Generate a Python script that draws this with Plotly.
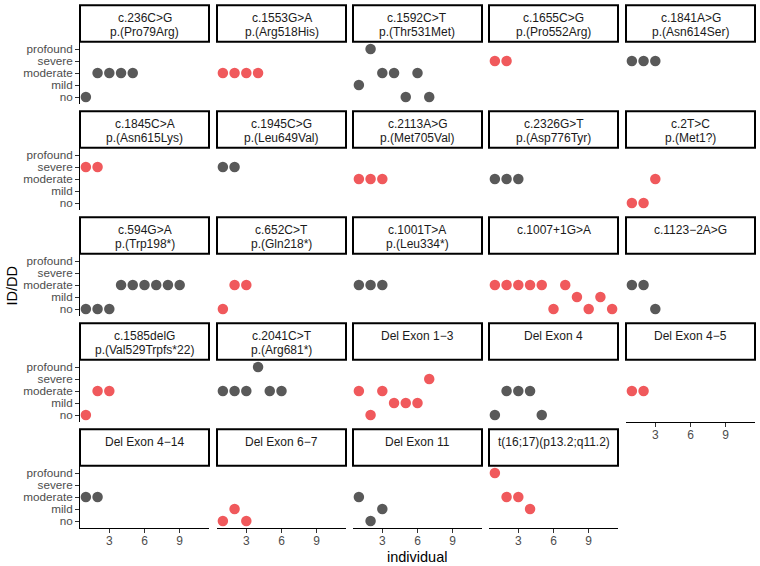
import plotly.graph_objects as go

# ---- data ----
levels = ["no", "mild", "moderate", "severe", "profound"]

variant_line1 = [
    "c.236C>G", "c.1553G>A", "c.1592C>T", "c.1655C>G", "c.1841A>G",
    "c.1845C>A", "c.1945C>G", "c.2113A>G", "c.2326G>T", "c.2T>C",
    "c.594G>A", "c.652C>T", "c.1001T>A", "c.1007+1G>A", "c.1123\u22122A>G",
    "c.1585delG", "c.2041C>T", "Del Exon 1\u22123", "Del Exon 4", "Del Exon 4\u22125",
    "Del Exon 4\u221214", "Del Exon 6\u22127", "Del Exon 11", "t(16;17)(p13.2;q11.2)",
]
variant_line2 = [
    "p.(Pro79Arg)", "p.(Arg518His)", "p.(Thr531Met)", "p.(Pro552Arg)", "p.(Asn614Ser)",
    "p.(Asn615Lys)", "p.(Leu649Val)", "p.(Met705Val)", "p.(Asp776Tyr)", "p.(Met1?)",
    "p.(Trp198*)", "p.(Gln218*)", "p.(Leu334*)", "", "",
    "p.(Val529Trpfs*22)", "p.(Arg681*)", "", "", "",
    "", "", "", "",
]
# severity of individuals 1..n in each panel
severity = [
    ["no", "moderate", "moderate", "moderate", "moderate"],
    ["moderate", "moderate", "moderate", "moderate"],
    ["mild", "profound", "moderate", "moderate", "no", "moderate", "no"],
    ["severe", "severe"],
    ["severe", "severe", "severe"],
    ["severe", "severe"],
    ["severe", "severe"],
    ["moderate", "moderate", "moderate"],
    ["moderate", "moderate", "moderate"],
    ["no", "no", "moderate"],
    ["no", "no", "no", "moderate", "moderate", "moderate", "moderate", "moderate", "moderate"],
    ["no", "moderate", "moderate"],
    ["moderate", "moderate", "moderate"],
    ["moderate", "moderate", "moderate", "moderate", "moderate", "no", "moderate",
     "mild", "no", "mild", "no"],
    ["moderate", "moderate", "no"],
    ["no", "moderate", "moderate"],
    ["moderate", "moderate", "moderate", "profound", "moderate", "moderate"],
    ["moderate", "no", "moderate", "mild", "mild", "mild", "severe"],
    ["no", "moderate", "moderate", "moderate", "no"],
    ["moderate", "moderate"],
    ["moderate", "moderate"],
    ["no", "mild", "no"],
    ["moderate", "no", "mild"],
    ["profound", "moderate", "moderate", "mild"],
]
highlight = [0, 1, 0, 1, 0,
             1, 0, 1, 0, 1,
             0, 1, 0, 1, 0,
             1, 0, 1, 0, 1,
             0, 1, 0, 1]
x_ticks = [3, 6, 9]

# ---- style ----
W, H = 760, 566
FONT = "Liberation Sans, Arial, Helvetica, sans-serif"
GREY = "#595959"
RED = "#F0595C"
col_left = [80, 217, 353, 489, 626]
col_w = 129
row_top0 = 41.8
row_pitch = 106
panel_h = 62.4
strip_h = 36.5
ncol = 5
n = len(severity)


def px_x(p):
    return p / W


def px_y(p):
    return 1 - p / H


fig = go.Figure()
layout = dict(
    width=W, height=H,
    margin=dict(l=0, r=0, t=0, b=0),
    paper_bgcolor="white", plot_bgcolor="white",
    showlegend=False,
    font=dict(family=FONT),
)
shapes = []
annotations = []

for i in range(n):
    r, c = divmod(i, ncol)
    left = col_left[c]
    top = row_top0 + r * row_pitch
    bottom = top + panel_h
    suffix = "" if i == 0 else str(i + 1)
    is_bottom = (i + ncol) >= n
    is_left = c == 0

    xs = list(range(1, len(severity[i]) + 1))
    ys = [levels.index(s) + 1 for s in severity[i]]
    fig.add_trace(go.Scatter(
        x=xs, y=ys, mode="markers",
        marker=dict(size=10.5, color=RED if highlight[i] else GREY, line=dict(width=0)),
        xaxis="x" + suffix, yaxis="y" + suffix, hoverinfo="skip",
    ))

    layout["xaxis" + suffix] = dict(
        domain=[px_x(left), px_x(left + col_w)],
        anchor="y" + suffix,
        range=[0.5, 11.5],
        showgrid=False, zeroline=False,
        showline=is_bottom, linecolor="black", linewidth=1,
        ticks="outside" if is_bottom else "", ticklen=4, tickcolor="#333333", tickwidth=1,
        tickvals=x_ticks, showticklabels=is_bottom, ticklabelstandoff=-3,
        tickfont=dict(size=12, color="#4D4D4D", family=FONT),
    )
    layout["yaxis" + suffix] = dict(
        domain=[px_y(bottom), px_y(top)],
        anchor="x" + suffix,
        range=[0.4, 5.6],
        showgrid=False, zeroline=False,
        showline=is_left, linecolor="black", linewidth=1,
        ticks="outside" if is_left else "", ticklen=4, tickcolor="#333333", tickwidth=1,
        tickvals=[1, 2, 3, 4, 5], ticktext=levels, showticklabels=is_left,
        tickfont=dict(size=11.7, color="#4D4D4D", family=FONT),
    )

    s_top = top - strip_h
    shapes.append(dict(
        type="rect", xref="paper", yref="paper",
        x0=px_x(left), x1=px_x(left + col_w),
        y0=px_y(top), y1=px_y(s_top),
        line=dict(color="black", width=2), fillcolor="white", layer="above",
    ))
    annotations.append(dict(
        text=variant_line1[i], xref="paper", yref="paper",
        x=px_x(left + col_w / 2), y=px_y(s_top + 12.5),
        xanchor="center", yanchor="middle", showarrow=False,
        font=dict(size=12, color="#1A1A1A", family=FONT),
    ))
    if variant_line2[i]:
        annotations.append(dict(
            text=variant_line2[i], xref="paper", yref="paper",
            x=px_x(left + col_w / 2), y=px_y(s_top + 26.5),
            xanchor="center", yanchor="middle", showarrow=False,
            font=dict(size=12, color="#1A1A1A", family=FONT),
        ))

annotations.append(dict(
    text="individual", xref="paper", yref="paper",
    x=px_x(417.5), y=px_y(557), xanchor="center", yanchor="middle",
    showarrow=False, font=dict(size=14.5, color="black", family=FONT),
))
annotations.append(dict(
    text="ID/DD", xref="paper", yref="paper",
    x=px_x(11.5), y=px_y(286), xanchor="center", yanchor="middle",
    showarrow=False, textangle=-90, font=dict(size=14.5, color="black", family=FONT),
))

layout["shapes"] = shapes
layout["annotations"] = annotations
fig.update_layout(**layout)
fig.write_html(
    "out.html",
    config={"displayModeBar": False},
    post_script="document.body.style.margin='0';document.body.style.padding='0';",
)
